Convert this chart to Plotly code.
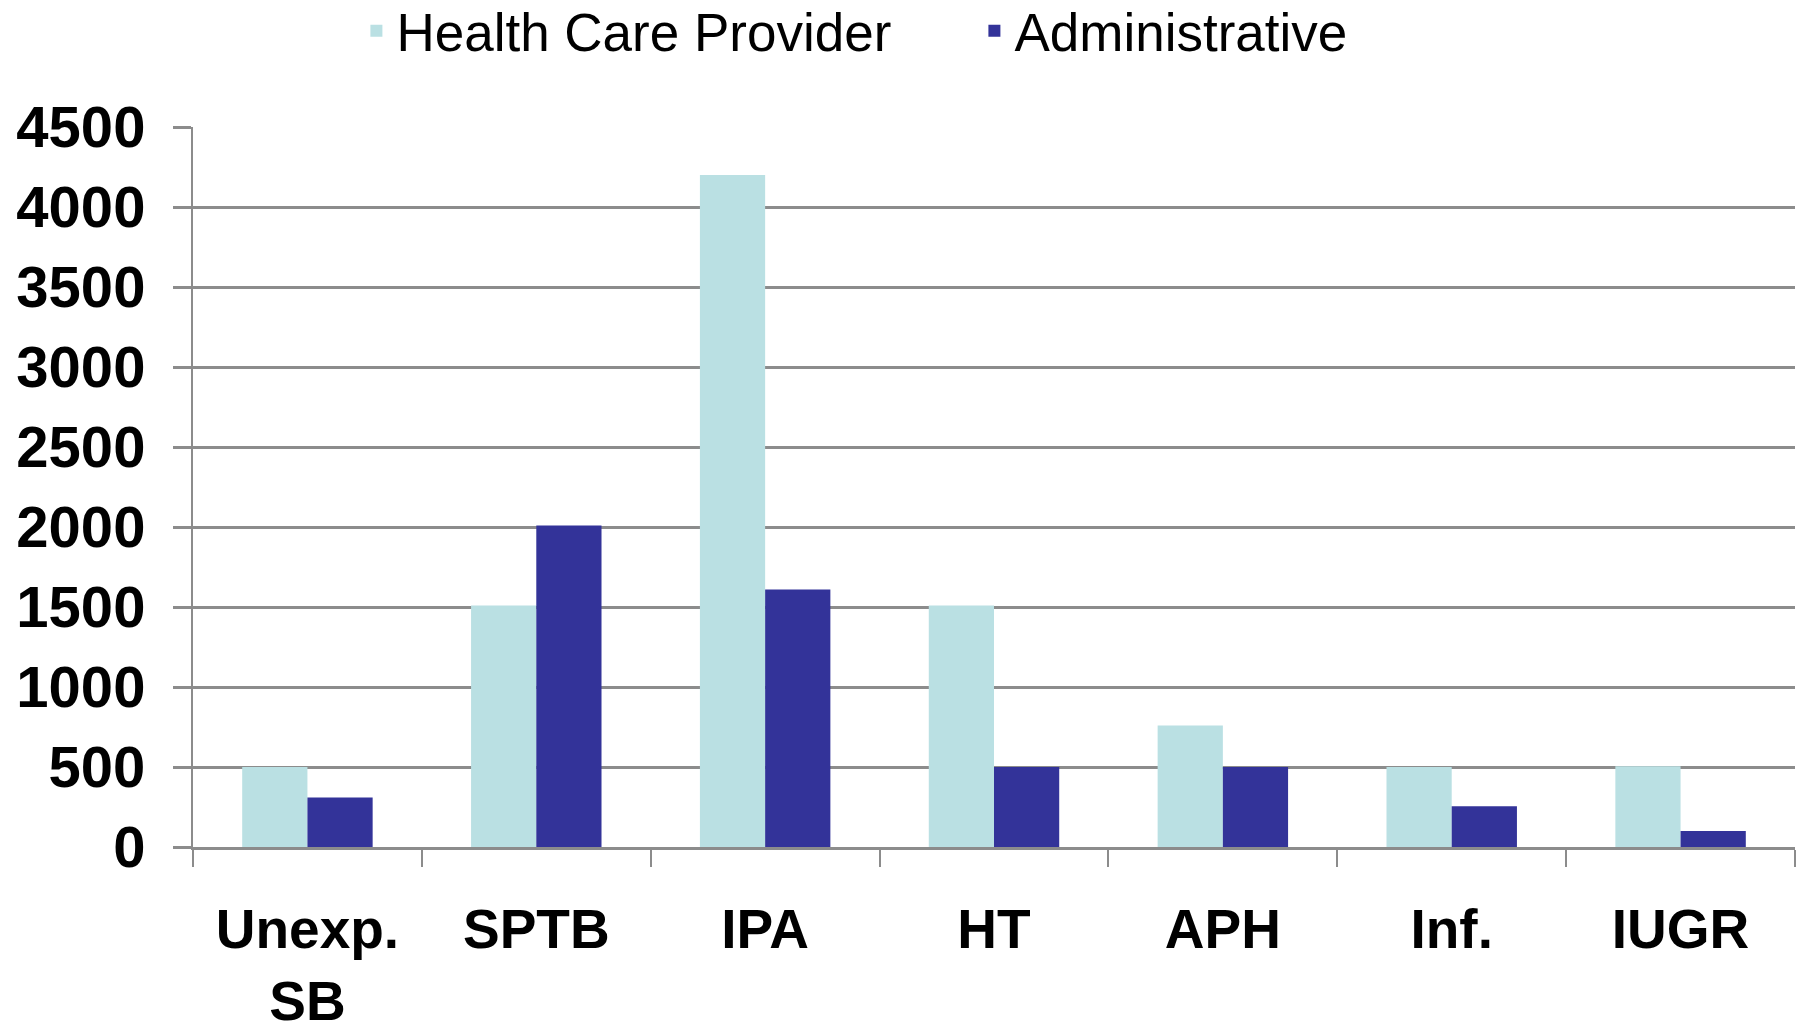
import plotly.graph_objects as go

categories = ["Unexp.<br>SB", "SPTB", "IPA", "HT", "APH", "Inf.", "IUGR"]
health_care_provider = [500, 1510, 4200, 1510, 760, 500, 505]
administrative = [310, 2010, 1610, 500, 500, 255, 100]
y_ticks = [0, 500, 1000, 1500, 2000, 2500, 3000, 3500, 4000, 4500]

LIGHT = "#BAE0E3"
DARK = "#333399"
GRID = "#8C8C8C"
FONT = "Liberation Sans, Arial, sans-serif"

fig = go.Figure()
fig.add_trace(go.Bar(name="Health Care Provider", x=categories, y=health_care_provider,
                     marker=dict(color=LIGHT, line=dict(width=0))))
fig.add_trace(go.Bar(name="Administrative", x=categories, y=administrative,
                     marker=dict(color=DARK, line=dict(width=0))))

fig.update_layout(
    width=1806, height=1023,
    margin=dict(l=193, r=11, t=127, b=176, autoexpand=False),
    paper_bgcolor="white", plot_bgcolor="white",
    barmode="group", bargap=0.43, bargroupgap=0,
    font=dict(family=FONT, color="black"),
    showlegend=True,
    legend=dict(orientation="h", x=0.102, xanchor="left", y=0.97, yanchor="middle",
                yref="container",
                font=dict(size=53, family=FONT, color="black"),
                entrywidth=573, entrywidthmode="pixels",
                itemclick=False, itemdoubleclick=False),
)

fig.update_yaxes(
    range=[0, 4500], tickvals=y_ticks, ticktext=[str(v) for v in y_ticks],
    automargin=False,
    showgrid=True, gridcolor=GRID, gridwidth=3,
    zeroline=False,
    showline=True, linecolor=GRID, linewidth=2,
    ticks="outside", ticklen=18, tickwidth=3, tickcolor=GRID,
    tickfont=dict(size=58, family=FONT, color="black", weight="bold"),
    ticklabelstandoff=16,
)
fig.update_xaxes(
    automargin=False,
    showline=True, linecolor=GRID, linewidth=3,
    ticks="outside", tickson="boundaries", ticklen=17, tickwidth=2, tickcolor=GRID,
    tickfont=dict(size=55, family=FONT, color="black", weight="bold"),
    ticklabelstandoff=32,
    showgrid=False,
)

fig.write_html("out.html",
               config={"displayModeBar": False},
               post_script="document.body.style.margin='0';document.body.style.overflow='hidden';")
